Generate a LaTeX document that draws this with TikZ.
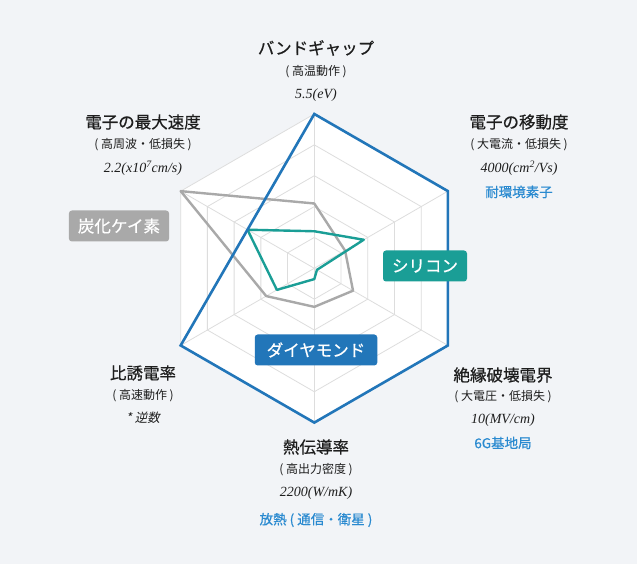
\documentclass[tikz,border=0pt]{standalone}
\usepackage{fontspec}
\newfontfamily\jp{Noto Sans CJK JP}
\newfontfamily\jpt[FakeBold=0.6]{Noto Sans CJK JP}
\newfontfamily\jpi[FakeSlant=0.2]{Noto Sans CJK JP}
\newfontfamily\vserif{Liberation Serif}
\definecolor{bg}{HTML}{F2F4F7}
\definecolor{txt}{HTML}{1E1E1E}
\definecolor{dblue}{HTML}{2276B9}
\definecolor{lblue}{HTML}{2A8AD0}
\definecolor{teal}{HTML}{1A9E96}
\definecolor{sgray}{HTML}{A9A9A9}
\definecolor{grid}{HTML}{DDDDDD}
\tikzset{
 ttl/.style={text=txt,font=\jpt\fontsize{16.5}{18}\selectfont,inner sep=0pt},
 sub/.style={text=txt,font=\jp\fontsize{12}{13}\selectfont,inner sep=0pt},
 val/.style={text=txt,font=\vserif\itshape\fontsize{14}{15}\selectfont,inner sep=0pt},
 app/.style={text=lblue,font=\jpt\fontsize{13.5}{15}\selectfont,inner sep=0pt},
 tag/.style={text=white,font=\jpt\fontsize{16.5}{18}\selectfont,rounded corners=3pt,minimum height=31pt,inner xsep=9pt},
}
\begin{document}
\begin{tikzpicture}[x=1pt,y=1pt]
\fill[bg] (0,0) rectangle (637,564);
\useasboundingbox (0,0) rectangle (637,564);
\begin{scope}[shift={(314.3,295.7)}]
\def\R{154.3}
\fill[white] (90:\R) -- (30:\R) -- (-30:\R) -- (-90:\R) -- (210:\R) -- (150:\R) -- cycle;
\foreach \f in {0.2,0.4,0.6,0.8,1.0}
  \draw[grid,line width=0.8pt] (90:\f*\R) -- (30:\f*\R) -- (-30:\f*\R) -- (-90:\f*\R) -- (210:\f*\R) -- (150:\f*\R) -- cycle;
\foreach \a in {90,30,-30,-90,210,150}
  \draw[grid,line width=0.8pt] (0,0) -- (\a:\R);
\draw[sgray,line width=2.4pt,line join=round] (90:0.42*\R) -- (30:0.23*\R) -- (-30:0.29*\R) -- (-90:0.25*\R) -- (210:0.36*\R) -- (150:1.0*\R) -- cycle;
\draw[teal,line width=2.4pt,line join=round] (90:0.24*\R) -- (30:0.37*\R) -- (-30:0.02*\R) -- (-90:0.07*\R) -- (210:0.28*\R) -- (150:0.5*\R) -- cycle;
\draw[dblue,line width=2.6pt,line join=miter] (90:\R) -- (30:\R) -- (-30:\R) -- (-90:\R) -- (210:\R) -- (150:0.5*\R) -- cycle;
\end{scope}
% tags
\node[tag,fill=sgray] (sic) at (119,338) {炭化ケイ素};
\node[tag,fill=teal] (si) at (425,298) {シリコン};
\node[tag,fill=dblue,inner xsep=12pt] (dia) at (316,214) {ダイヤモンド};
% top
\node[ttl] (t1) at (316,516) {バンドギャップ};
\node[sub] (t2) at (316,492) {( 高温動作 )};
\node[val] (t3) at (316,469) {5.5(eV)};
% upper left
\node[ttl] (ul1) at (143,442) {電子の最大速度};
\node[sub] (ul2) at (143,419) {( 高周波・低損失 )};
\node[val] (ul3) at (143,396) {2.2(x10\textsuperscript{7}cm/s)};
% upper right
\node[ttl] (ur1) at (519,442) {電子の移動度};
\node[sub] (ur2) at (519,419) {( 大電流・低損失 )};
\node[val] (ur3) at (519,396) {4000(cm\textsuperscript{2}/Vs)};
\node[app] (ur4) at (519,372) {耐環境素子};
% lower right
\node[ttl] (lr1) at (503,189) {絶縁破壊電界};
\node[sub] (lr2) at (503,167) {( 大電圧・低損失 )};
\node[val] (lr3) at (503,144) {10(MV/cm)};
\node[app] (lr4) at (503,121) {6G基地局};
% bottom
\node[ttl] (b1) at (316,117) {熱伝導率};
\node[sub] (b2) at (316,94) {( 高出力密度 )};
\node[val] (b3) at (316,71) {2200(W/mK)};
\node[app] (b4) at (316,44) {放熱 ( 通信・衛星 )};
% lower left
\node[ttl] (ll1) at (143,191) {比誘電率};
\node[sub] (ll2) at (143,168) {( 高速動作 )};
\node[sub,font=\jpi\fontsize{12.5}{14}\selectfont] (ll3) at (143,146) {* 逆数};
\end{tikzpicture}
\end{document}
